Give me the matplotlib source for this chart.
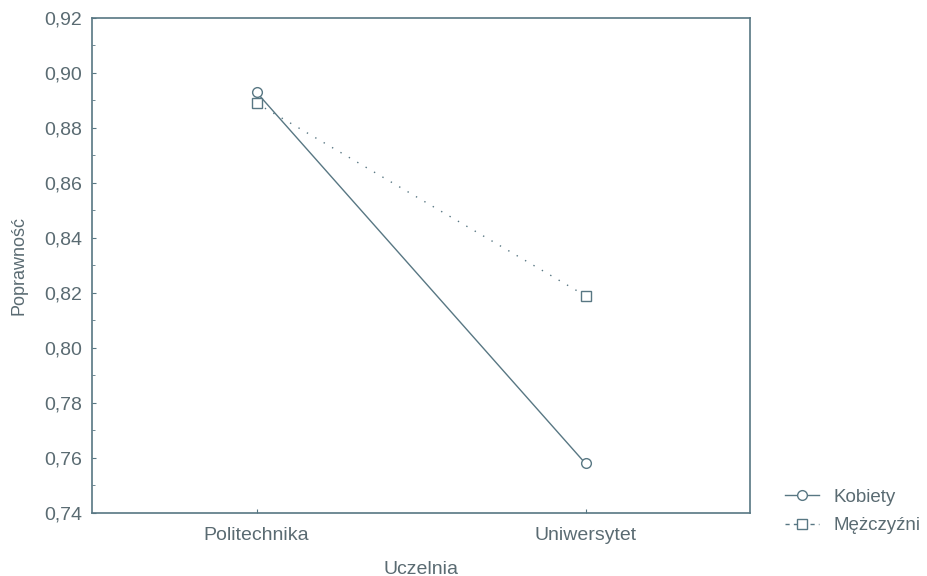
import matplotlib
matplotlib.use("Agg")
import matplotlib.pyplot as plt
from matplotlib.ticker import MultipleLocator, FuncFormatter
from matplotlib.lines import Line2D

categories = ["Politechnika", "Uniwersytet"]
kobiety = [0.893, 0.758]
mezczyzni = [0.889, 0.819]
yticks = [0.74, 0.76, 0.78, 0.80, 0.82, 0.84, 0.86, 0.88, 0.90, 0.92]
series_names = ["Kobiety", "Mężczyźni"]

plt.rcParams['font.family'] = ['Liberation Sans', 'DejaVu Sans']
line_c = '#587783'
text_c = '#5a6b72'

fig = plt.figure(figsize=(9.27, 5.76), dpi=100)
ax = fig.add_axes([92/927, 1-513/576, (750-92)/927, (513-18)/576])

x = list(range(len(categories)))
ax.plot(x, kobiety, color=line_c, lw=1.0, marker='o', ms=7,
        mfc='white', mec=line_c, mew=1.0)
ax.plot(x, mezczyzni, color=line_c, lw=1.0, ls=(0, (1, 6)), marker='s', ms=7,
        mfc='white', mec=line_c, mew=1.0)

ax.set_xlim(-0.5, 1.5)
ax.set_ylim(0.74, 0.92)
ax.set_xticks(x)
ax.set_xticklabels(categories)
ax.set_yticks(yticks)
ax.yaxis.set_major_formatter(FuncFormatter(lambda v, p: f"{v:.2f}".replace('.', ',')))
ax.yaxis.set_minor_locator(MultipleLocator(0.01))
ax.tick_params(axis='both', which='both', direction='in', colors=line_c,
               labelcolor=text_c, labelsize=14)
ax.tick_params(axis='both', which='major', length=3)
ax.tick_params(axis='y', which='minor', length=2)
ax.tick_params(axis='x', pad=10)
ax.tick_params(axis='y', pad=7)
for s in ax.spines.values():
    s.set_color(line_c)
    s.set_linewidth(1.2)

ax.set_ylabel('Poprawność', color=text_c, fontsize=13)
ax.set_xlabel('Uczelnia', color=text_c, fontsize=14)
ax.yaxis.set_label_coords(-0.098, 0.5)
ax.xaxis.set_label_coords(0.5, -0.096)

handles = [
    Line2D([], [], color=line_c, lw=1.0, marker='o', ms=7, mfc='white', mec=line_c),
    Line2D([], [], color=line_c, lw=1.0, ls=(0, (3, 3)), marker='s', ms=7, mfc='white', mec=line_c),
]
fig.legend(handles, series_names, loc='center left', bbox_to_anchor=(785/927, 1-511.5/576),
           frameon=False, fontsize=13.5, handlelength=1.8, handletextpad=0.8,
           labelspacing=0.6, borderpad=0, borderaxespad=0, labelcolor=text_c)

fig.savefig('out.png', dpi=100)
